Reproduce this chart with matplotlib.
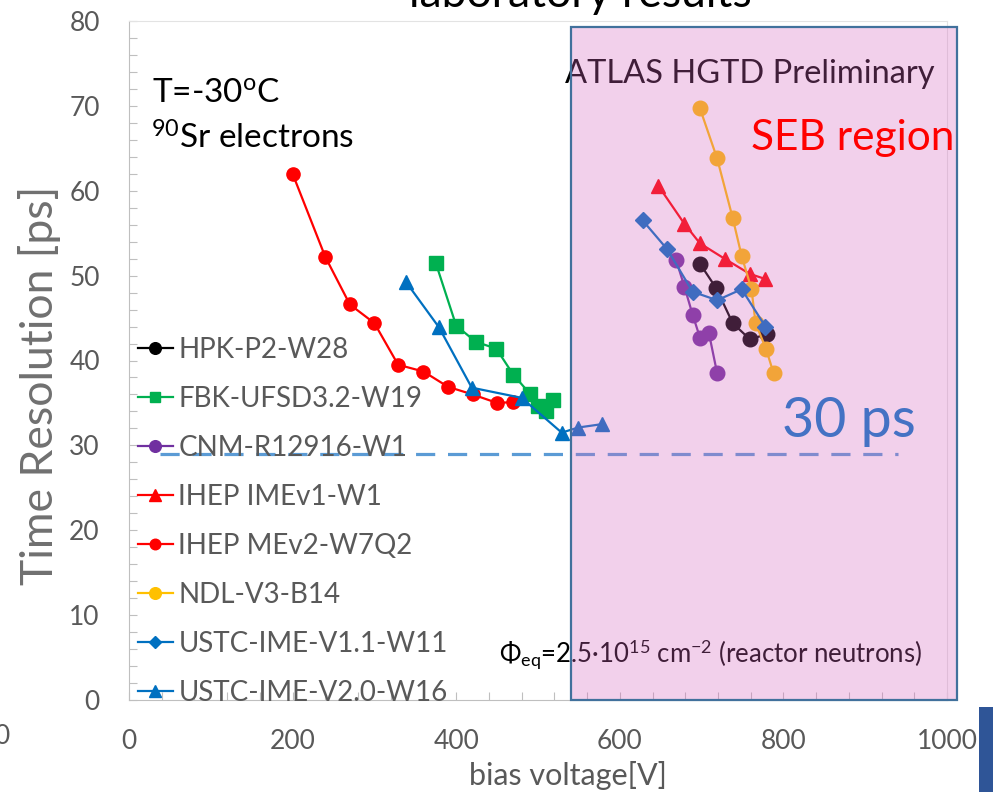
import numpy as np
import matplotlib
matplotlib.use("Agg")
import matplotlib.pyplot as plt
from matplotlib.ticker import MultipleLocator
from matplotlib.patches import Rectangle

plt.rcParams['font.family'] = ['Lato', 'DejaVu Sans']
plt.rcParams['mathtext.fontset'] = 'custom'
plt.rcParams['mathtext.rm'] = 'Lato'
plt.rcParams['mathtext.it'] = 'Lato:italic'
plt.rcParams['mathtext.bf'] = 'Lato:bold'

# bias voltage [V] and time resolution [ps]
hpk_v = [698, 718, 738, 759, 780]
hpk_t = [51.4, 48.5, 44.4, 42.5, 43.1]

fbk_v = [375, 400, 424, 449, 470, 490, 500, 510, 518]
fbk_t = [51.5, 44.1, 42.2, 41.4, 38.3, 36.1, 34.6, 34.0, 35.3]

cnm_v = [669, 679, 689, 698, 709, 719]
cnm_t = [51.8, 48.7, 45.4, 42.7, 43.2, 38.5]

ihep1_v = [647, 679, 698, 728, 759, 778]
ihep1_t = [60.6, 56.1, 53.8, 52.0, 50.2, 49.6]

ihep2_v = [200, 240, 270, 300, 329, 360, 390, 420, 450, 470]
ihep2_t = [62.0, 52.2, 46.6, 44.4, 39.5, 38.7, 36.9, 36.0, 35.0, 35.1]

ndl_v = [698, 719, 738, 749, 761, 766, 779, 788]
ndl_t = [69.7, 63.8, 56.8, 52.3, 48.4, 44.4, 41.3, 38.5]

ustc1_v = [628, 658, 689, 719, 749, 778]
ustc1_t = [56.5, 53.1, 48.1, 47.1, 48.4, 44.0]

ustc2_v = [339, 379, 419, 480, 529, 549, 578]
ustc2_t = [49.2, 43.9, 36.8, 35.6, 31.5, 32.1, 32.5]

target = 29.0
seb_start, seb_end = 540, 1012

series = [
    ("HPK-P2-W28", hpk_v, hpk_t, "#000000", "o", 10.5),
    ("FBK-UFSD3.2-W19", fbk_v, fbk_t, "#00b050", "s", 9.5),
    ("CNM-R12916-W1", cnm_v, cnm_t, "#7030a0", "o", 10.5),
    ("IHEP IMEv1-W1", ihep1_v, ihep1_t, "#ff0000", "^", 10.5),
    ("IHEP MEv2-W7Q2", ihep2_v, ihep2_t, "#ff0000", "o", 9.5),
    ("NDL-V3-B14", ndl_v, ndl_t, "#ffc000", "o", 10.5),
    ("USTC-IME-V1.1-W11", ustc1_v, ustc1_t, "#0070c0", "D", 8),
    ("USTC-IME-V2.0-W16", ustc2_v, ustc2_t, "#0070c0", "^", 10),
]

fig = plt.figure(figsize=(9.93, 7.92), dpi=100)
ax = fig.add_axes([129 / 993, 1 - 700 / 792, 818 / 993, 679 / 792])

for name, v, t, c, m, ms in series:
    ax.plot(v, t, color=c, marker=m, markersize=ms, linewidth=1.6, label=name)

ax.plot([38, 940], [target, target], color="#5b9bd5", linewidth=2.3,
        dashes=(6, 4), zorder=5)

ax.set_xlim(0, 1000)
ax.set_ylim(0, 80)
ax.xaxis.set_major_locator(MultipleLocator(200))
ax.xaxis.set_minor_locator(MultipleLocator(40))
ax.yaxis.set_major_locator(MultipleLocator(10))
ax.yaxis.set_minor_locator(MultipleLocator(2))
ax.tick_params(which="both", direction="in", length=6, width=0.8,
               color="#bfbfbf", labelcolor="#595959", labelsize=19, pad=21)
ax.tick_params(top=False, right=False)
for s in ["left", "bottom"]:
    ax.spines[s].set_color("#bfbfbf")
for s in ["top", "right"]:
    ax.spines[s].set_color("#e3e3e3")
    ax.spines[s].set_linewidth(0.8)

fig.text(40 / 993, 1 - 385 / 792, "Time Resolution [ps]", rotation=90,
         ha="center", va="center", fontsize=32, color="#707070")
fig.text(568 / 993, 1 - 775 / 792, "bias voltage[V]", ha="center",
         va="center", fontsize=22, color="#595959")

leg = ax.legend(loc="upper left", bbox_to_anchor=(0.011, 0.535), frameon=False,
                fontsize=20, handlelength=1.25, handletextpad=0.2,
                labelspacing=0.83, borderpad=0, borderaxespad=0,
                markerscale=0.8)
for txt in leg.get_texts():
    txt.set_color("#595959")

ax.text(28, 70.5, r"T=-30$^{\mathrm{o}}$C", fontsize=24, color="black")
ax.text(27, 65.0, r"$^{90}$Sr electrons", fontsize=24, color="black")
ax.text(533, 72.7, "ATLAS HGTD Preliminary", fontsize=23.5, color="black")
ax.text(452, 4.5, r"$\Phi_{\mathrm{eq}}$=2.5·10$^{15}$ cm$^{-2}$ (reactor neutrons)",
        fontsize=18.5, color="black")

# SEB region shading drawn on top of the data
ax.add_patch(Rectangle((seb_start, 0), seb_end - seb_start, 79.3,
                       facecolor=(215 / 255, 102 / 255, 192 / 255, 0.3),
                       edgecolor="none", zorder=10, clip_on=False))
ax.add_patch(Rectangle((seb_start, 0), seb_end - seb_start, 79.3,
                       facecolor="none", edgecolor="#41719c", linewidth=1.6,
                       zorder=11, clip_on=False))

ax.text(761, 64.8, "SEB region", fontsize=30.5, color="#ff0000", zorder=12)
ax.text(798, 31.0, "30 ps", fontsize=40, color="#4472c4", zorder=12)

fig.text(580 / 993, 1 - 7 / 792, "laboratory results", ha="center",
         va="baseline", fontsize=32, color="black")
fig.text(2 / 993, 1 - 736 / 792, "0", ha="center", va="center",
         fontsize=19, color="#595959")
fig.patches.append(Rectangle((979 / 993, 0), 14 / 993, 85 / 792,
                             transform=fig.transFigure, facecolor="#2f5597",
                             edgecolor="none"))

fig.savefig("out.png", dpi=100)
